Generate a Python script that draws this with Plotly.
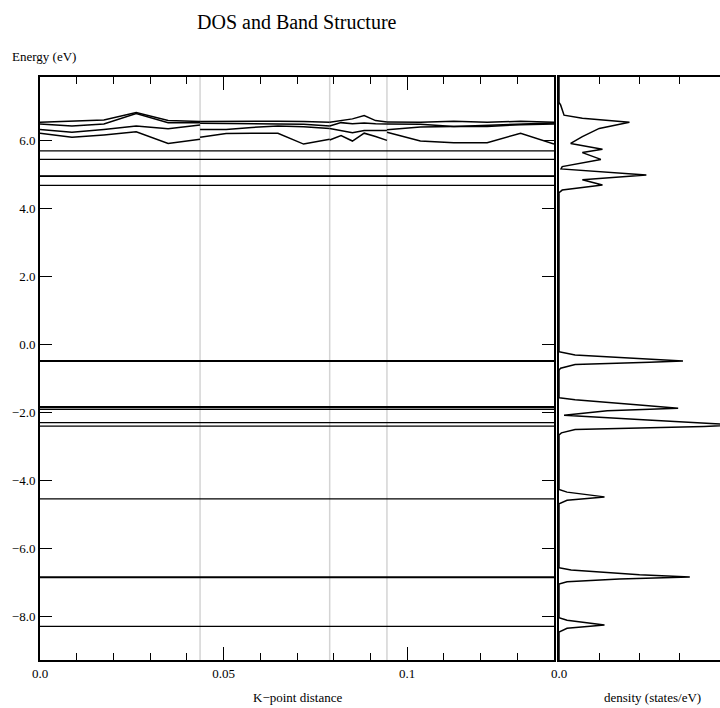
import plotly.graph_objects as go

# k-path: four segments, each sampled at 6 points (boundaries shared)
seg_k = [
    [0.0000, 0.0087, 0.0174, 0.0262, 0.0349, 0.0436],
    [0.0436, 0.0507, 0.0577, 0.0648, 0.0718, 0.0789],
    [0.0789, 0.0820, 0.0851, 0.0883, 0.0914, 0.0945],
    [0.0945, 0.1036, 0.1127, 0.1218, 0.1309, 0.1400],
]
high_sym_k = [0.0436, 0.0789, 0.0945]

# dispersive conduction bands (eV), per segment
band_a = [[6.52, 6.55, 6.59, 6.81, 6.57, 6.54],
          [6.54, 6.55, 6.56, 6.55, 6.54, 6.52],
          [6.52, 6.56, 6.62, 6.72, 6.57, 6.53],
          [6.53, 6.52, 6.55, 6.52, 6.55, 6.52]]
band_b = [[6.47, 6.41, 6.47, 6.78, 6.51, 6.51],
          [6.49, 6.48, 6.47, 6.48, 6.46, 6.41],
          [6.41, 6.51, 6.48, 6.50, 6.48, 6.47],
          [6.47, 6.46, 6.40, 6.44, 6.47, 6.50]]
band_c = [[6.31, 6.23, 6.31, 6.41, 6.33, 6.44],
          [6.31, 6.31, 6.37, 6.41, 6.39, 6.34],
          [6.34, 6.28, 6.21, 6.28, 6.28, 6.28],
          [6.30, 6.38, 6.40, 6.40, 6.45, 6.47]]
band_d = [[6.20, 6.08, 6.15, 6.24, 5.90, 6.02],
          [6.08, 6.19, 6.20, 6.20, 5.88, 6.02],
          [6.00, 6.13, 5.97, 6.20, 6.10, 5.99],
          [6.23, 5.97, 5.92, 5.92, 6.20, 5.88]]
dispersive_bands = [band_a, band_b, band_c, band_d]

# dispersionless levels (eV)
flat_bands = [5.68, 5.43, 4.95, 4.93, 4.67, -0.48, -0.50, -1.83, -1.86,
              -1.91, -2.30, -2.40, -4.54, -6.83, -6.85, -8.28]

# density of states (states/eV) versus energy (eV)
dos_energy = [7.85, 7.10, 7.03, 6.85, 6.73, 6.64, 6.52, 6.34, 6.10, 5.90,
              5.73, 5.63, 5.43, 5.22, 5.15, 4.97, 4.83, 4.68, 4.53, 4.45,
              -0.22, -0.31, -0.44, -0.49, -0.53, -0.59, -0.70, -0.76,
              -1.57, -1.63, -1.78, -1.88, -1.95, -2.08, -2.22, -2.37, -2.41,
              -2.50, -2.60, -2.66,
              -4.26, -4.34, -4.48, -4.58, -4.68,
              -6.56, -6.63, -6.77, -6.83, -6.89, -6.97, -7.04,
              -8.03, -8.10, -8.24, -8.34, -8.45, -9.27]
dos_value = [0.0, 0.0, 0.004, 0.008, 0.0125, 0.058, 0.175, 0.100, 0.058, 0.029,
             0.108, 0.058, 0.104, 0.008, 0.005, 0.217, 0.058, 0.108, 0.008, 0.0,
             0.0, 0.04, 0.225, 0.308, 0.225, 0.04, 0.004, 0.0,
             0.0, 0.04, 0.20, 0.296, 0.12, 0.0125, 0.22, 0.44, 0.36,
             0.04, 0.006, 0.0,
             0.0, 0.02, 0.113, 0.02, 0.0,
             0.0, 0.03, 0.20, 0.325, 0.15, 0.02, 0.0,
             0.0, 0.02, 0.113, 0.02, 0.0, 0.0]

e_range = [-9.27, 7.85]
k_range = [0.0, 0.140]
dos_range = [0.0, 0.40]

serif = "Liberation Serif"
line_col = "black"

fig = go.Figure()

# dispersive bands, one trace per band with gaps between segments
for band in dispersive_bands:
    xs, ys = [], []
    for ks, es in zip(seg_k, band):
        xs += ks + [None]
        ys += es + [None]
    fig.add_trace(go.Scatter(x=xs, y=ys, mode="lines",
                             line=dict(color=line_col, width=1.5),
                             xaxis="x", yaxis="y", hoverinfo="skip"))

# flat levels spanning the whole path
for e in flat_bands:
    fig.add_trace(go.Scatter(x=k_range, y=[e, e], mode="lines",
                             line=dict(color=line_col, width=1.2),
                             xaxis="x", yaxis="y", hoverinfo="skip"))

# DOS curve
fig.add_trace(go.Scatter(x=dos_value, y=dos_energy, mode="lines",
                         line=dict(color=line_col, width=1.5),
                         xaxis="x2", yaxis="y2", hoverinfo="skip",
                         cliponaxis=True))

# high-symmetry markers
shapes = []
for k in high_sym_k:
    shapes.append(dict(type="line", xref="x", yref="y domain",
                       x0=k, x1=k, y0=0, y1=1, layer="below",
                       line=dict(color="#d4d4d4", width=1.5)))

band_dom = [0.0, 514 / 680]
dos_dom = [519 / 680, 1.0]

fig.update_layout(
    width=720, height=708,
    margin=dict(l=40, r=0, t=77, b=48),
    paper_bgcolor="white", plot_bgcolor="white",
    showlegend=False,
    shapes=shapes,
    xaxis=dict(domain=band_dom, range=k_range, showgrid=False, zeroline=False,
               showline=True, linecolor="black", linewidth=2, mirror="allticks",
               ticks="inside", ticklen=13, tickwidth=1.2, tickcolor="black",
               tickvals=[0.0, 0.05, 0.1], ticktext=["0.0", "0.05", "0.1"],
               minor=dict(dtick=0.01, tick0=0, ticks="inside", ticklen=7,
                          tickwidth=1.2, tickcolor="black", showgrid=False),
               tickfont=dict(family=serif, size=13, color="black")),
    yaxis=dict(domain=[0, 1], range=e_range, showgrid=False, zeroline=False,
               showline=True, linecolor="black", linewidth=2, mirror="allticks",
               ticks="inside", ticklen=12, tickwidth=1.2, tickcolor="black",
               dtick=2, tick0=0, tickformat=".1f",
               tickfont=dict(family=serif, size=13, color="black")),
    xaxis2=dict(domain=dos_dom, range=dos_range, anchor="y2", showgrid=False,
                zeroline=False, showline=True, linecolor="black", linewidth=2,
                mirror="allticks", ticks="inside", ticklen=13, tickwidth=1.2,
                tickcolor="black", tickvals=[0.0], ticktext=["0.0"],
                minor=dict(dtick=0.1, tick0=0, ticks="inside", ticklen=7,
                           tickwidth=1.2, tickcolor="black", showgrid=False),
                tickfont=dict(family=serif, size=13, color="black")),
    yaxis2=dict(domain=[0, 1], range=e_range, anchor="x2", showgrid=False,
                zeroline=False, showline=True, linecolor="black", linewidth=2,
                mirror=False, ticks="", showticklabels=False),
    annotations=[
        dict(text="DOS and Band Structure", xref="paper", yref="paper",
             x=257 / 680, y=1, yshift=55, xanchor="center", yanchor="middle",
             showarrow=False, font=dict(family=serif, size=20, color="black")),
        dict(text="Energy (eV)", xref="paper", yref="paper",
             x=-30 / 680, y=1, yshift=21, xanchor="left", yanchor="middle",
             showarrow=False, font=dict(family=serif, size=13, color="black")),
        dict(text="K\u2212point distance", xref="paper", yref="paper",
             x=258 / 680, y=0, yshift=-37, xanchor="center", yanchor="middle",
             showarrow=False, font=dict(family=serif, size=13, color="black")),
        dict(text="density (states/eV)", xref="paper", yref="paper",
             x=612 / 680, y=0, yshift=-37, xanchor="center", yanchor="middle",
             showarrow=False, font=dict(family=serif, size=13, color="black")),
    ],
)

fig.write_html("out.html")
